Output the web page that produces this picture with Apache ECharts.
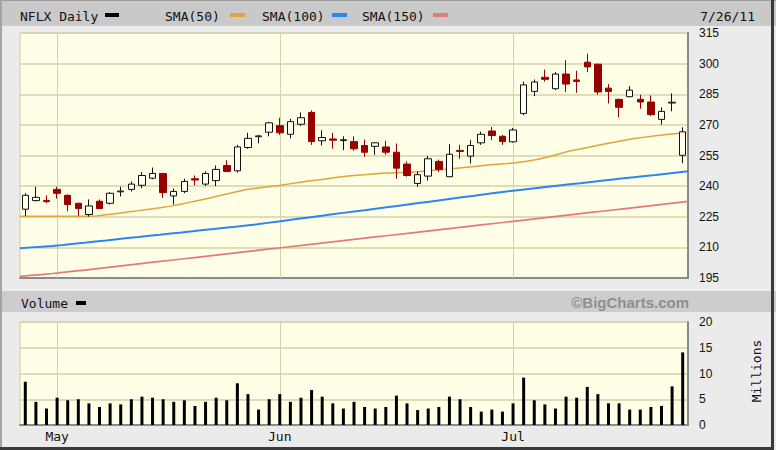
<!DOCTYPE html>
<html><head><meta charset="utf-8">
<script src="https://cdn.jsdelivr.net/npm/echarts@6/dist/echarts.min.js"></script>
<style>html,body{margin:0;padding:0;background:#ebebeb}#c{width:776px;height:450px}</style>
</head><body><div id="c"></div>
<script>
const dates = ['4/27','4/28','4/29',
 '5/2','5/3','5/4','5/5','5/6','5/9','5/10','5/11','5/12','5/13','5/16','5/17','5/18','5/19','5/20','5/23','5/24','5/25','5/26','5/27','5/31',
 '6/1','6/2','6/3','6/6','6/7','6/8','6/9','6/10','6/13','6/14','6/15','6/16','6/17','6/20','6/21','6/22','6/23','6/24','6/27','6/28','6/29','6/30',
 '7/1','7/5','7/6','7/7','7/8','7/11','7/12','7/13','7/14','7/15','7/18','7/19','7/20','7/21','7/22','7/25','7/26'];
const opens  = [228.7,232.9,233.0,238.4,235.5,231.6,226.1,232.6,231.6,237.2,238.4,240.4,243.9,246.2,235.2,237.4,243.6,241.0,242.7,250.1,247.5,258.9,264.2,266.4,269.6,265.4,270.3,276.1,262.2,263.1,262.3,261.8,259.9,259.5,259.2,256.6,250.8,241.3,244.9,252.1,244.6,257.5,254.7,261.2,267.0,264.4,261.7,275.6,286.4,293.3,287.7,294.9,292.0,300.7,299.7,288.0,282.5,283.8,282.5,281.2,272.7,280.7,255.1];
const closes = [235.5,234.5,232.4,236.5,231.0,229.0,230.3,229.0,236.5,237.6,241.0,245.2,246.2,236.8,237.4,242.3,243.0,246.2,248.2,247.2,259.2,263.4,264.6,271.0,266.1,271.6,273.5,261.8,263.8,262.5,262.7,258.3,256.6,261.2,256.6,248.8,245.2,245.6,253.4,248.2,255.6,257.0,259.9,265.4,264.8,261.8,267.5,289.6,291.0,292.3,294.9,290.0,291.3,298.4,286.1,286.4,278.6,287.0,281.2,275.0,276.6,281.1,266.6];
const highs  = [236.5,239.7,235.5,239.7,236.0,231.8,233.5,233.5,237.0,239.7,242.3,246.9,249.1,246.5,238.8,243.6,245.2,247.2,250.1,252.7,260.2,266.1,265.1,271.5,273.5,272.9,276.1,277.1,267.3,266.1,264.4,264.4,262.8,261.5,262.2,260.9,252.1,247.2,254.7,253.0,260.5,260.2,262.5,266.7,269.0,265.1,268.5,291.2,292.2,297.1,295.8,301.7,296.5,304.9,300.0,290.0,282.8,289.0,284.8,284.4,278.6,285.4,268.8];
const lows   = [225.4,232.5,231.6,233.9,227.7,225.4,225.1,228.8,231.0,234.9,237.4,239.0,243.3,234.2,231.0,236.5,240.4,240.0,240.0,246.8,246.6,258.3,260.9,264.4,265.1,263.4,269.6,260.2,259.9,258.3,257.6,257.3,254.4,255.3,255.3,243.6,244.6,239.7,242.7,246.9,244.4,253.4,251.1,260.2,262.5,260.2,261.3,274.7,284.1,291.2,287.0,286.1,285.7,295.8,284.8,280.5,273.7,283.5,277.9,274.4,270.1,276.6,251.2];
const volumes = [8.4,4.5,3.2,5.3,4.8,5.0,4.2,3.5,4.2,4.0,5.0,5.5,5.3,5.0,4.5,4.8,3.7,4.5,5.3,4.8,8.1,6.0,3.0,5.0,6.0,4.5,5.3,6.8,5.5,4.2,3.2,4.5,3.5,3.2,3.5,5.7,4.2,2.9,3.2,3.5,5.5,5.0,3.5,2.6,3.0,2.6,4.2,9.2,4.8,4.0,3.2,5.5,5.3,7.4,6.0,4.2,4.2,3.0,3.0,3.5,3.7,7.5,14.1];
const sma50  = [225.2,225.2,225.2,225.2,225.2,225.2,225.2,225.4,226.0,226.6,227.3,228.0,228.7,229.4,230.2,231.2,232.4,233.5,234.7,235.9,237.1,238.3,239.0,239.7,240.3,241.1,241.9,242.6,243.3,244.0,244.7,245.2,245.6,246.1,246.4,246.6,246.8,247.1,247.6,248.0,248.5,249.0,249.5,250.1,250.6,250.9,251.5,252.2,253.0,254.3,255.7,257.2,258.2,259.3,260.4,261.4,262.3,263.3,264.0,264.7,265.3,265.8,266.2];
const sma100 = [209.6,210.0,210.3,210.7,211.2,211.8,212.3,212.9,213.4,214.0,214.6,215.1,215.7,216.2,216.8,217.3,217.9,218.5,219.0,219.6,220.1,220.7,221.3,222.0,222.7,223.4,224.1,224.8,225.5,226.2,226.9,227.6,228.2,228.9,229.6,230.3,231.0,231.7,232.4,233.1,233.8,234.5,235.2,235.9,236.6,237.3,237.9,238.5,239.1,239.7,240.3,240.9,241.4,242.0,242.6,243.2,243.8,244.4,245.0,245.5,246.1,246.7,247.3];
const sma150 = [195.8,196.3,196.7,197.2,197.8,198.4,198.9,199.5,200.1,200.7,201.3,201.9,202.5,203.1,203.7,204.3,204.9,205.5,206.1,206.7,207.3,207.9,208.5,209.1,209.7,210.3,210.9,211.5,212.1,212.7,213.3,213.9,214.5,215.1,215.7,216.3,216.9,217.5,218.1,218.7,219.3,219.9,220.5,221.1,221.7,222.3,222.9,223.5,224.1,224.7,225.3,225.9,226.5,227.1,227.7,228.3,228.9,229.5,230.1,230.7,231.3,231.9,232.5];
const priceMin = 195, priceMax = 315, priceStep = 15;
const volMin = 0, volMax = 20, volStep = 5;
const monthStarts = ['5/2','6/1','7/1'];
const monthLabels = ['May','Jun','Jul'];
const seriesNames = ['NFLX Daily','SMA(50)','SMA(100)','SMA(150)'];
const dateLabel = '7/26/11';

const MONO = '"DejaVu Sans Mono"';
const SANS = '"Liberation Sans"';
const GRIDC = '#D6D2A6';
const SHADOW = '#8a8a8a';
const PLOTBG = '#FFFFE8';
const C50 = '#E2A33B', C100 = '#2A86F0', C150 = '#E27A7A';

const candleData = dates.map((d, i) => [opens[i], closes[i], lows[i], highs[i]]);
const monthMarks = (z) => ({
  silent: true, symbol: ['none','none'], z: z, animation: false,
  label: {show: false},
  lineStyle: {color: GRIDC, type: 'solid', width: 1},
  emphasis: {disabled: true},
  data: monthStarts.map(m => ({xAxis: m}))
});

const chart = echarts.init(document.getElementById('c'), null, {renderer: 'svg'});
const txt = (text, x, y, opts) => Object.assign({type: 'text', x: x, y: y, silent: true,
  style: Object.assign({text: text, font: '13px ' + MONO, fill: '#111', textVerticalAlign: 'middle'}, (opts||{}).style||{})},
  (opts||{}).el||{});
const rect = (x, y, w, h, fill) => ({type: 'rect', silent: true, shape: {x, y, width: w, height: h}, style: {fill}});

chart.setOption({
  animation: false,
  backgroundColor: '#EBEBEB',
  graphic: [
    rect(0, 0, 776, 26, '#C9C9C9'),
    rect(0, 291, 776, 21, '#CDCDCD'),
    rect(0, 0, 776, 1, '#9d9d9d'),
    rect(0, 0, 2, 450, '#a4a4a4'),
    rect(771, 0, 3, 450, '#3a3a3a'),
    rect(0, 447, 774, 3, '#3a3a3a'),
    txt(seriesNames[0], 20, 16),
    rect(105, 13, 14, 4, '#000'),
    txt(seriesNames[1], 165, 16),
    rect(230, 13, 15, 4, C50),
    txt(seriesNames[2], 262, 16),
    rect(332, 13, 15, 4, C100),
    txt(seriesNames[3], 362, 16),
    rect(433, 13, 15, 4, C150),
    txt(dateLabel, 755, 16, {style: {textAlign: 'right'}}),
    txt('Volume', 21, 303),
    rect(76, 301, 10, 4, '#000'),
    txt('\u00A9BigCharts.com', 689, 302, {style: {textAlign: 'right', font: 'bold 15px ' + SANS, fill: '#8f8f8f'}}),
    txt('Millions', 756, 371, {style: {textAlign: 'center'}, el: {rotation: Math.PI / 2}})
  ],
  grid: [
    {left: 20, top: 33, width: 668, height: 245, show: true, backgroundColor: PLOTBG, borderColor: '#CFCB9A', borderWidth: 1},
    {left: 20, top: 322, width: 668, height: 103, show: true, backgroundColor: PLOTBG, borderColor: '#CFCB9A', borderWidth: 1}
  ],
  xAxis: [
    {type: 'category', gridIndex: 0, data: dates, boundaryGap: true,
     axisLine: {show: true, lineStyle: {color: SHADOW, width: 2}}, axisTick: {show: false}, axisLabel: {show: false}, splitLine: {show: false}},
    {type: 'category', gridIndex: 0, data: dates, boundaryGap: false, show: false},
    {type: 'category', gridIndex: 1, data: dates, boundaryGap: true,
     axisLine: {show: true, lineStyle: {color: SHADOW, width: 2}}, axisTick: {show: false}, splitLine: {show: false},
     axisLabel: {interval: (i, v) => monthStarts.indexOf(v) >= 0, formatter: v => monthLabels[monthStarts.indexOf(v)],
       fontFamily: MONO, fontSize: 13, color: '#111', margin: 5}}
  ],
  yAxis: [
    {type: 'value', gridIndex: 0, position: 'right', min: priceMin, max: priceMax, interval: priceStep,
     axisLine: {show: true, lineStyle: {color: SHADOW, width: 2}}, axisTick: {show: false},
     axisLabel: {fontFamily: SANS, fontSize: 12, color: '#111', margin: 11},
     splitLine: {show: true, lineStyle: {color: GRIDC, width: 1.5}}},
    {type: 'value', gridIndex: 1, position: 'right', min: volMin, max: volMax, interval: volStep,
     axisLine: {show: true, lineStyle: {color: SHADOW, width: 2}}, axisTick: {show: false},
     axisLabel: {fontFamily: SANS, fontSize: 12, color: '#111', margin: 11},
     splitLine: {show: true, lineStyle: {color: GRIDC, width: 1.5}}}
  ],
  series: [
    {name: 'SMA(150)', type: 'line', xAxisIndex: 1, yAxisIndex: 0, data: sma150, symbol: 'none', silent: true,
     lineStyle: {color: C150, width: 1.7}, z: 2},
    {name: 'SMA(100)', type: 'line', xAxisIndex: 1, yAxisIndex: 0, data: sma100, symbol: 'none', silent: true,
     lineStyle: {color: C100, width: 2}, z: 2},
    {name: 'SMA(50)', type: 'line', xAxisIndex: 1, yAxisIndex: 0, data: sma50, symbol: 'none', silent: true,
     lineStyle: {color: C50, width: 1.5}, z: 2},
    {name: 'NFLX', type: 'candlestick', xAxisIndex: 0, yAxisIndex: 0, data: candleData, barWidth: 7,
     itemStyle: {color: '#FFFFF4', color0: '#990000', borderColor: '#111', borderColor0: '#990000', borderWidth: 1},
     markLine: monthMarks(1), z: 3},
    {name: 'Volume', type: 'bar', xAxisIndex: 2, yAxisIndex: 1, data: volumes, barWidth: 3,
     itemStyle: {color: '#000'}, markLine: monthMarks(1), z: 3}
  ]
});
</script></body></html>
